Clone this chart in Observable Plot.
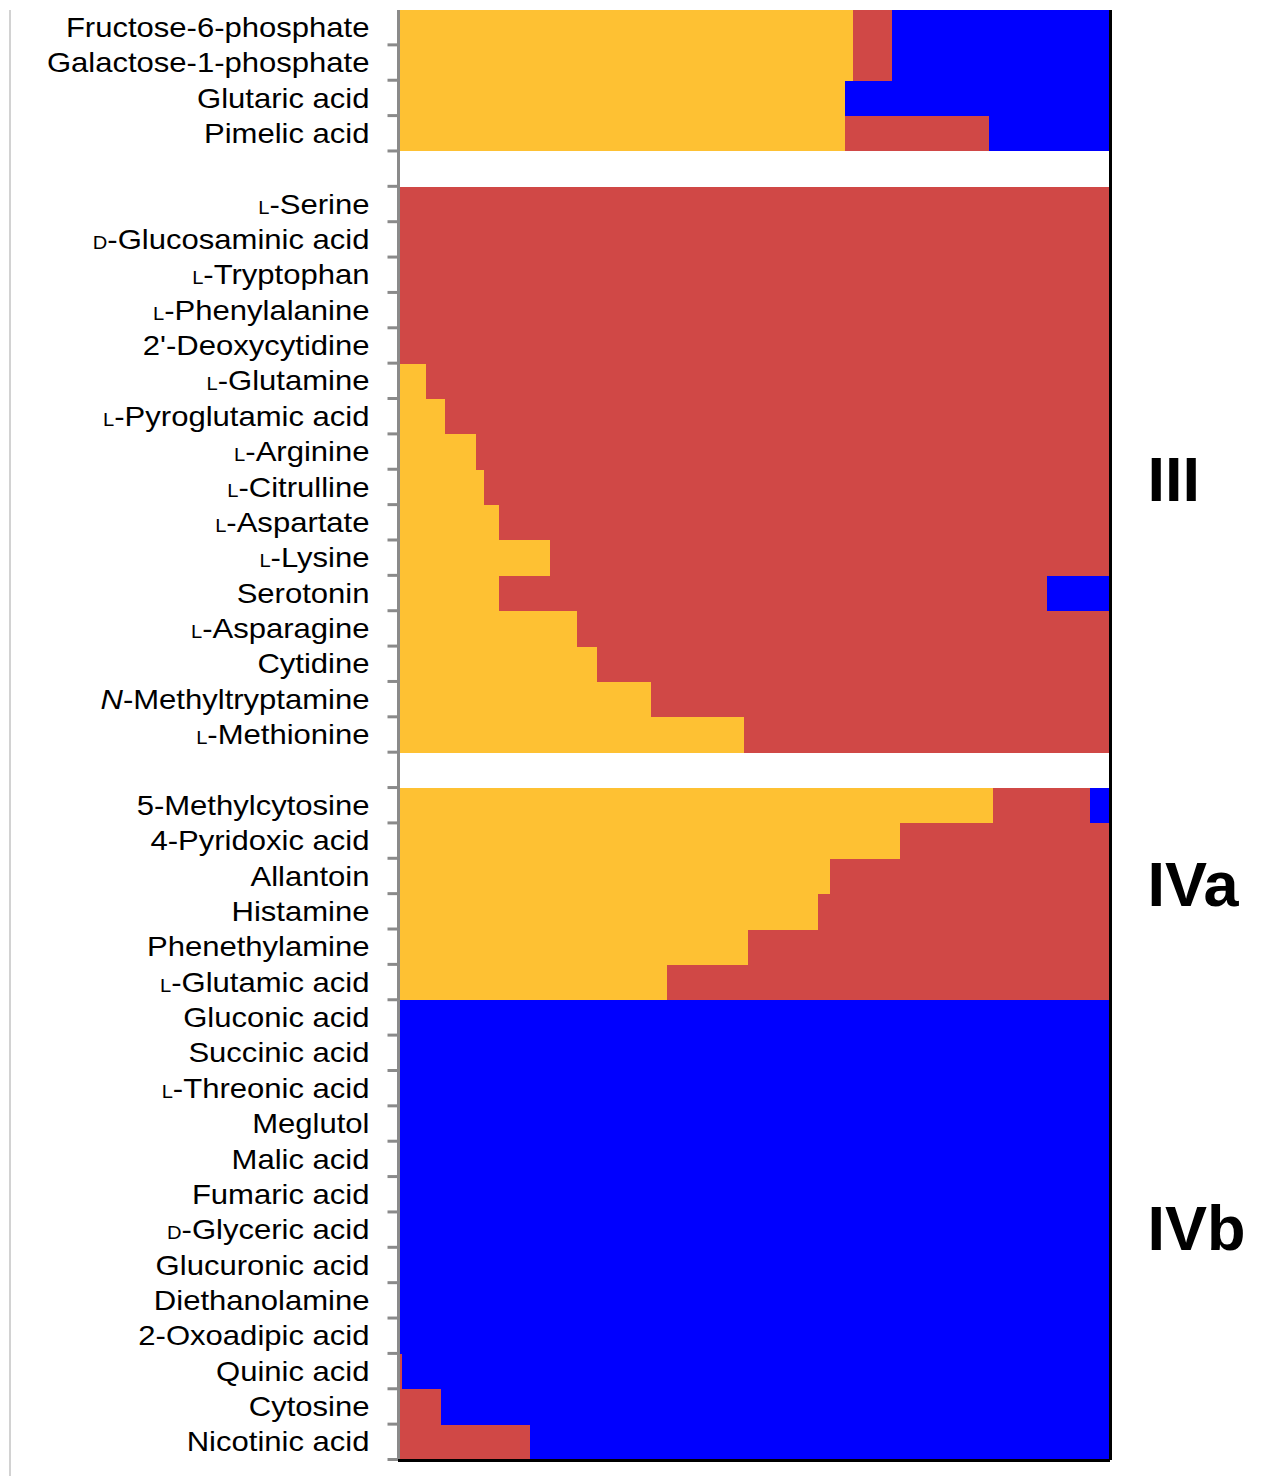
<!DOCTYPE html>
<html>
<head>
<meta charset="utf-8">
<script src="https://cdn.jsdelivr.net/npm/d3@7"></script>
<script src="https://cdn.jsdelivr.net/npm/@observablehq/plot@0.6"></script>
<style>
  html, body { margin: 0; padding: 0; background: #fff; }
  #wrap { position: relative; width: 1265px; height: 1481px; }
  #edge { position: absolute; left: 9px; top: 10px; width: 2px; height: 1466px; background: #d2d2d2; }
</style>
</head>
<body>
<div id="wrap"><div id="edge"></div></div>
<script>
// Row labels ("" = spacer row between groups)
const rowLabels = [
  "Fructose-6-phosphate", "Galactose-1-phosphate", "Glutaric acid", "Pimelic acid",
  "",
  "L-Serine", "D-Glucosaminic acid", "L-Tryptophan", "L-Phenylalanine", "2'-Deoxycytidine",
  "L-Glutamine", "L-Pyroglutamic acid", "L-Arginine", "L-Citrulline", "L-Aspartate",
  "L-Lysine", "Serotonin", "L-Asparagine", "Cytidine", "N-Methyltryptamine", "L-Methionine",
  "",
  "5-Methylcytosine", "4-Pyridoxic acid", "Allantoin", "Histamine", "Phenethylamine", "L-Glutamic acid",
  "Gluconic acid", "Succinic acid", "L-Threonic acid", "Meglutol", "Malic acid", "Fumaric acid",
  "D-Glyceric acid", "Glucuronic acid", "Diethanolamine", "2-Oxoadipic acid", "Quinic acid",
  "Cytosine", "Nicotinic acid"
];

// Shares per row for the three series
const share1 = [
  0.639, 0.639, 0.628, 0.628,
  0,
  0, 0, 0, 0, 0,
  0.039, 0.066, 0.110, 0.121, 0.142,
  0.214, 0.142, 0.252, 0.279, 0.355, 0.486,
  0,
  0.836, 0.705, 0.607, 0.590, 0.492, 0.378,
  0, 0, 0, 0, 0, 0,
  0, 0, 0, 0, 0,
  0, 0
];
const share2 = [
  0.055, 0.055, 0, 0.202,
  0,
  1, 1, 1, 1, 1,
  0.961, 0.934, 0.890, 0.879, 0.858,
  0.786, 0.770, 0.748, 0.721, 0.645, 0.514,
  0,
  0.136, 0.295, 0.393, 0.410, 0.508, 0.622,
  0, 0, 0, 0, 0, 0,
  0, 0, 0, 0, 0.006,
  0.061, 0.186
];
const share3 = [
  0.306, 0.306, 0.372, 0.170,
  0,
  0, 0, 0, 0, 0,
  0, 0, 0, 0, 0,
  0, 0.088, 0, 0, 0, 0,
  0,
  0.028, 0, 0, 0, 0, 0,
  1, 1, 1, 1, 1, 1,
  1, 1, 1, 1, 0.994,
  0.939, 0.814
];

const seriesNames = ["S1", "S2", "S3"];
const seriesColors = ["#FEC133", "#D04846", "#0000FF"];

const groupNames = ["III", "IVa", "IVb"];
const groupRows = [13, 24, 34];

// Long-format table built from the arrays
const rows = d3.range(rowLabels.length);
const shares = [share1, share2, share3];
const long = [];
rows.forEach(i => {
  seriesNames.forEach((s, k) => {
    if (shares[k][i] > 0) long.push({row: i, series: s, share: shares[k][i]});
  });
});

const W = 1265, H = 1481, mT = 10, mB = 21, mL = 398, mR = 155;
const bw = (H - mT - mB) / rowLabels.length;

const groupDy = [-7, 9, -1];

// short horizontal tick pointing left from the axis
const tickLeft = {draw(context, l) { context.moveTo(0, 0); context.lineTo(-l, 0); }};

const chart = Plot.plot({
  width: W,
  height: H,
  marginLeft: mL,
  marginRight: mR,
  marginTop: mT,
  marginBottom: mB,
  style: {fontFamily: "'Liberation Sans', Arial, Helvetica, sans-serif", background: "white", color: "black"},
  x: {domain: [0, 1], axis: null},
  y: {type: "band", domain: rows, padding: 0, round: false, axis: null, label: null},
  color: {domain: seriesNames, range: seriesColors},
  marks: [
    Plot.barX(long, {y: "row", x: "share", fill: "series", shapeRendering: "crispEdges"}),
    Plot.ruleX([0], {stroke: "#8a8a8a", strokeWidth: 3}),
    Plot.vector(rows, {
      y: d => d, frameAnchor: "left", length: 11, anchor: "start", shape: tickLeft,
      dy: bw / 2 - 1, stroke: "#8a8a8a", strokeWidth: 3, strokeLinecap: "butt"
    }),
    Plot.text(rows, {
      y: d => d, text: d => rowLabels[d], frameAnchor: "left", textAnchor: "end",
      dx: -29, fontSize: 27, fill: "black"
    }),
    Plot.ruleX([1], {stroke: "black", strokeWidth: 3}),
    Plot.ruleY([rows[rows.length - 1]], {stroke: "black", strokeWidth: 3, dy: bw / 2}),
    ...groupNames.map((g, k) => Plot.text([g], {
      y: () => groupRows[k], text: d => d, frameAnchor: "right", textAnchor: "start",
      dx: 37, dy: groupDy[k], fontSize: 63, fontWeight: "bold", fill: "black"
    }))
  ]
});

// Typographic details: small-caps L/D prefixes, italic N, slightly wide label face
const labelSet = new Set(rowLabels.filter(s => s !== ""));
d3.select(chart).selectAll("text").each(function () {
  const s = this.textContent;
  if (!labelSet.has(s)) return;
  const el = d3.select(this);
  let tr = el.attr("transform");
  if (!tr) {
    tr = `translate(${el.attr("x") || 0},${el.attr("y") || 0})`;
    el.attr("x", null).attr("y", null);
  }
  el.attr("transform", tr + " scale(1.15,1)");
  let m;
  if ((m = s.match(/^([LD])-(.*)$/))) {
    el.text(null);
    el.append("tspan").attr("font-size", 17.5).text(m[1]);
    el.append("tspan").text("-" + m[2]);
  } else if ((m = s.match(/^N-(.*)$/))) {
    el.text(null);
    el.append("tspan").attr("font-style", "italic").text("N");
    el.append("tspan").text("-" + m[1]);
  }
});

document.getElementById("wrap").appendChild(chart);
</script>
</body>
</html>
